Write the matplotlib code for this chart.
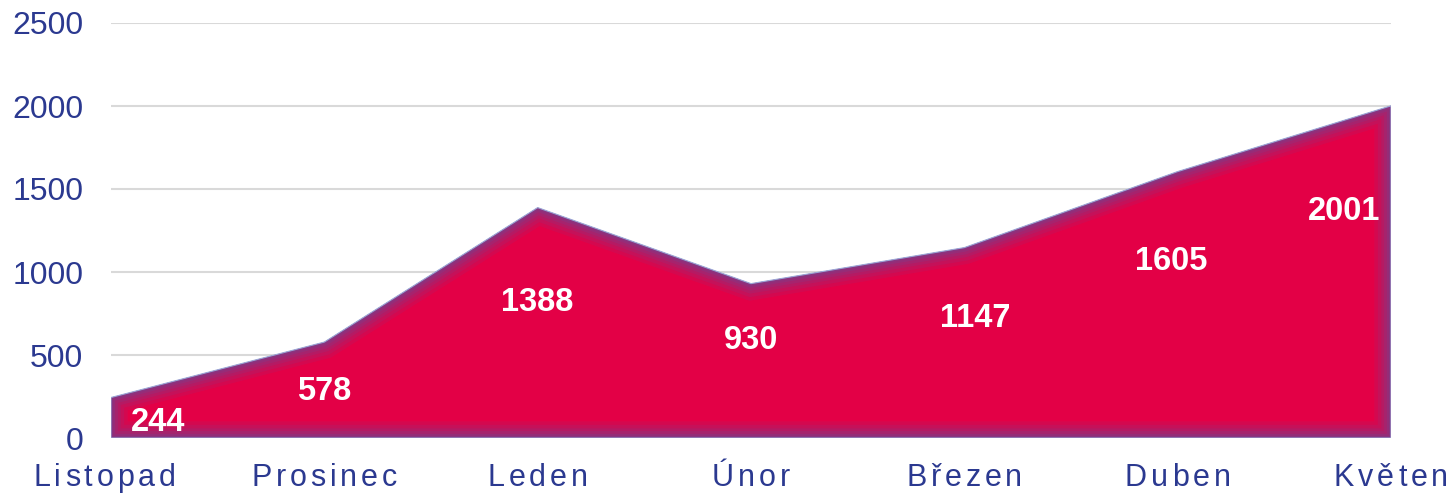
import matplotlib
matplotlib.use("Agg")
import matplotlib.pyplot as plt
from matplotlib.patches import Polygon
from matplotlib.textpath import TextToPath
from matplotlib.font_manager import FontProperties
import numpy as np

# ----------------------------- data -----------------------------
months = ["Listopad", "Prosinec", "Leden", "Únor", "Březen", "Duben", "Květen"]
values = [244, 578, 1388, 930, 1147, 1605, 2001]
yticks = [0, 500, 1000, 1500, 2000, 2500]

# label placement (data units), kept apart from the values
label_y = [96, 283, 819, 590, 717, 1066, 1367]
label_dx = [0.22, 0.0, 0.0, 0.0, 0.05, -0.03, -0.22]

FILL = "#E30046"
GLOW = "#6A4A98"
NAVY = "#2B3990"
FONT = ["Liberation Sans", "DejaVu Sans"]

plt.rcParams["font.family"] = FONT

fig = plt.figure(figsize=(14.5, 4.94), dpi=100)
ax = fig.add_axes([111 / 1450, 1 - 438 / 494, 1280 / 1450, 415 / 494])

x = np.arange(len(months))
ax.set_xlim(0, len(months) - 1)
ax.set_ylim(0, 2500)

for t in yticks[1:]:
    ax.axhline(t, color="#D9D9D9", lw=1.5, zorder=0)

verts = [(x[0], 0)] + list(zip(x, values)) + [(x[-1], 0)]
poly = Polygon(verts, closed=True, facecolor=FILL, edgecolor="none", zorder=2)
ax.add_patch(poly)

# inner glow: stacked outlines clipped to the shape
for lw, a in [(24, 0.12), (19, 0.14), (14, 0.17), (10, 0.2), (6, 0.25), (3, 0.3)]:
    p = Polygon(verts, closed=True, facecolor="none", edgecolor=GLOW,
                lw=lw, alpha=a, joinstyle="miter", zorder=3)
    ax.add_patch(p)
    p.set_clip_path(poly)
ax.add_patch(Polygon(verts, closed=True, facecolor="none", edgecolor="#9AA8D8",
                     lw=0.8, zorder=3))

for i, v in enumerate(values):
    ax.text(x[i] + label_dx[i], label_y[i], str(v), color="white", fontsize=23.5,
            fontweight="bold", ha="center", va="center", zorder=5)

ax.set_yticks(yticks)
ax.set_yticklabels([str(t) for t in yticks], color=NAVY, fontsize=23)
ax.tick_params(axis="y", length=0, pad=20)
ax.set_xticks([])
for s in ax.spines.values():
    s.set_visible(False)

# x labels with letter spacing
prop = FontProperties(family="Liberation Sans", size=22)
ttp = TextToPath()
spacing = 2.8  # points between letters
for i, m in enumerate(months):
    offs = []
    for k in range(len(m)):
        w, _, _ = ttp.get_text_width_height_descent(m[:k], prop, ismath=False) if k else (0, 0, 0)
        offs.append(w + spacing * k)
    wt, _, _ = ttp.get_text_width_height_descent(m, prop, ismath=False)
    total = wt + spacing * (len(m) - 1)
    xc = x[i] - (0.03 if i == 0 else 0)
    for k, ch in enumerate(m):
        ax.annotate(ch, xy=(xc, 0), xycoords=("data", "axes fraction"),
                    xytext=(offs[k] - total / 2, -29), textcoords="offset points",
                    fontproperties=prop, color=NAVY, ha="left", va="center",
                    annotation_clip=False)

fig.savefig("out.png", dpi=100)
